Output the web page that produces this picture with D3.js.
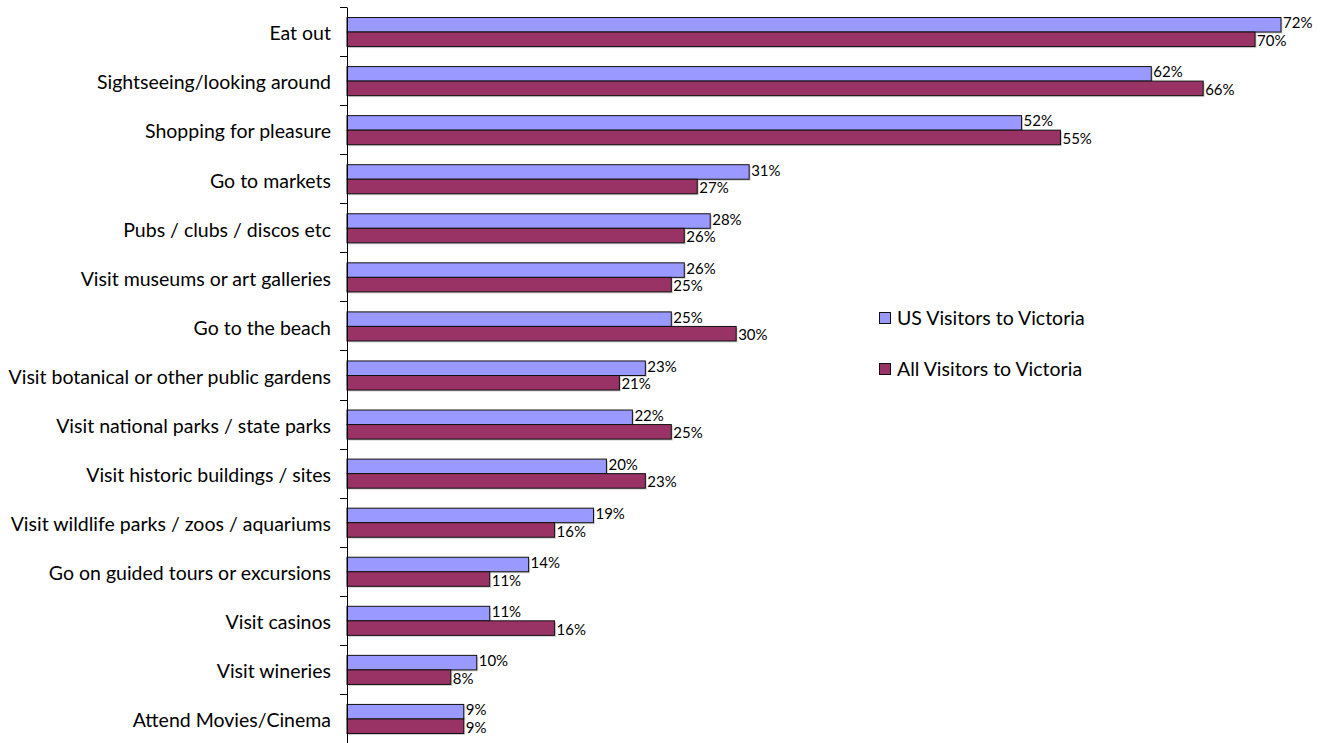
<!DOCTYPE html>
<html>
<head>
<meta charset="utf-8">
<script src="https://cdn.jsdelivr.net/npm/d3@7/dist/d3.min.js"></script>
<style>
  html, body { margin: 0; padding: 0; background: #fff; }
  svg { display: block; font-family: "Lato", "Open Sans", sans-serif; }
</style>
</head>
<body>
<svg id="chart" width="1323" height="743"></svg>
<script>
const categories = [
  "Eat out",
  "Sightseeing/looking around",
  "Shopping for pleasure",
  "Go to markets",
  "Pubs / clubs / discos etc",
  "Visit museums or art galleries",
  "Go to the beach",
  "Visit botanical or other public gardens",
  "Visit national parks / state parks",
  "Visit historic buildings / sites",
  "Visit wildlife parks / zoos / aquariums",
  "Go on guided tours or excursions",
  "Visit casinos",
  "Visit wineries",
  "Attend Movies/Cinema"
];
const usVisitors  = [72, 62, 52, 31, 28, 26, 25, 23, 22, 20, 19, 14, 11, 10, 9];
const allVisitors = [70, 66, 55, 27, 26, 25, 30, 21, 25, 23, 16, 11, 16, 8, 9];
const seriesNames = ["US Visitors to Victoria", "All Visitors to Victoria"];
const seriesColors = ["#9999FF", "#993366"];

const svg = d3.select("#chart");
const plotLeft = 347, plotTop = 7, plotBottom = 743;

const x = d3.scaleLinear().domain([0, 72]).range([plotLeft, 1281]);
const y = d3.scaleBand().domain(categories).range([plotTop, plotBottom]).paddingInner(0).paddingOuter(0);
const inner = d3.scaleBand().domain(seriesNames).range([10.5, y.bandwidth() - 9.5]);

const rows = categories.map((c, i) => ({ cat: c, vals: [usVisitors[i], allVisitors[i]] }));

const g = svg.append("g");
const groups = g.selectAll("g.row").data(rows).join("g")
  .attr("class", "row")
  .attr("transform", d => `translate(0,${y(d.cat)})`);

// faint shadow beneath each bar
seriesNames.forEach((s, si) => {
  groups.append("rect")
    .attr("x", x(0) + 1.5)
    .attr("y", inner(s) + 1.5)
    .attr("width", d => x(d.vals[si]) - x(0))
    .attr("height", inner.bandwidth())
    .attr("fill", "#999")
    .attr("opacity", 0.45);
});

seriesNames.forEach((s, si) => {
  groups.append("rect")
    .attr("x", x(0))
    .attr("y", inner(s))
    .attr("width", d => x(d.vals[si]) - x(0))
    .attr("height", inner.bandwidth())
    .attr("fill", seriesColors[si])
    .attr("stroke", "#111")
    .attr("stroke-width", 1);
});

// value labels: US label nudged up, All label nudged down so the pair stays apart
seriesNames.forEach((s, si) => {
  groups.append("text")
    .attr("x", d => x(d.vals[si]) + 2)
    .attr("y", inner(s) + inner.bandwidth() / 2 + (si === 0 ? -1.5 : 1.5))
    .attr("dy", "0.34em")
    .attr("font-size", 15)
    .attr("fill", "#000")
    .text(d => d.vals[si] + "%");
});

// category axis
const axis = d3.axisLeft(y).tickSize(0).tickPadding(16);
const ag = svg.append("g").attr("transform", `translate(${plotLeft},0)`).call(axis);
ag.select(".domain").attr("stroke", "#000");
ag.selectAll("text").attr("font-size", 19.5).attr("fill", "#000").attr("dy", "0.45em")
  .style("font-family", "Lato, 'Open Sans', sans-serif");

// tick marks at band boundaries
const bounds = categories.map(c => y(c)).concat([plotBottom]);
svg.append("g").selectAll("line").data(bounds).join("line")
  .attr("x1", plotLeft - 7).attr("x2", plotLeft)
  .attr("y1", d => Math.round(d) + 0.5).attr("y2", d => Math.round(d) + 0.5)
  .attr("stroke", "#000");

// legend
const legend = svg.append("g").attr("transform", "translate(879,312)");
seriesNames.forEach((s, i) => {
  const lg = legend.append("g").attr("transform", `translate(0,${i * 51})`);
  lg.append("rect").attr("x", 0.5).attr("y", 0.5).attr("width", 11).attr("height", 11)
    .attr("fill", seriesColors[i]).attr("stroke", "#111");
  lg.append("text").attr("x", 18).attr("y", 6).attr("dy", "0.38em")
    .attr("font-size", 19.5).attr("fill", "#000").text(s);
});
</script>
</body>
</html>
